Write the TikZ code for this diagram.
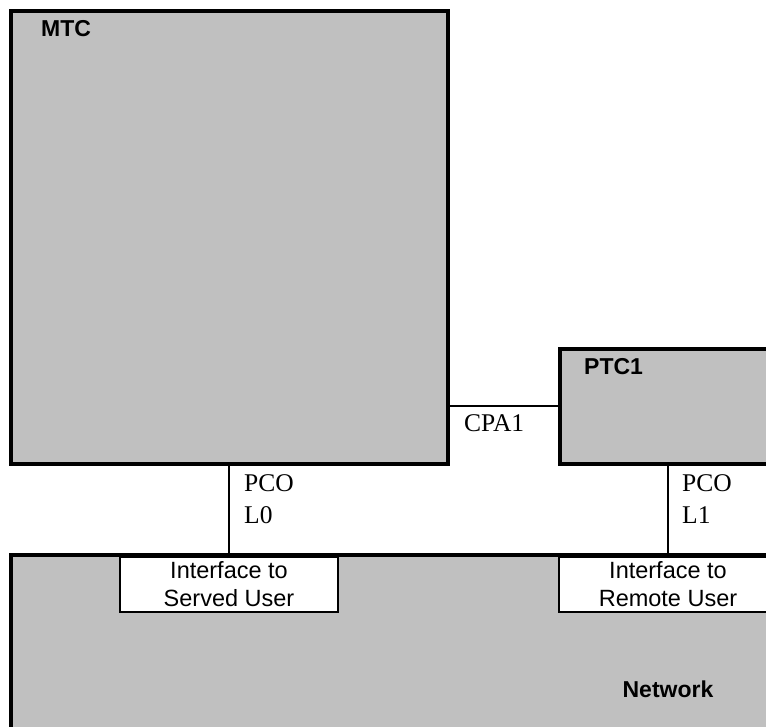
\documentclass[tikz,border=0pt]{standalone}
\usepackage{fontspec}
\setmainfont{Liberation Serif}
\setsansfont{Liberation Sans}
\definecolor{grayfill}{HTML}{C0C0C0}
\begin{document}
\begin{tikzpicture}[x=1pt,y=-1pt,
  blk/.style={draw=black,line width=4pt,fill=grayfill,inner sep=0pt,outer sep=0pt,anchor=north west,rectangle},
  ifbox/.style={draw=black,line width=2pt,fill=white,inner sep=0pt,outer sep=0pt,anchor=north west,rectangle},
  iftext/.style={font=\sffamily\fontsize{23.5}{28}\selectfont,align=center,inner sep=0pt},
  blklabel/.style={font=\sffamily\bfseries\fontsize{23}{27}\selectfont,inner sep=0pt},
  conlabel/.style={font=\rmfamily\fontsize{25.5}{32}\selectfont,inner sep=0pt,align=left},
  conn/.style={draw=black,line width=2pt}]
\useasboundingbox (0,0) rectangle (766,726);
\fill[white] (0,0) rectangle (766,726);
\begin{scope}
\clip (0,0) rectangle (766,726);
% blocks
\node[blk,minimum width=437pt,minimum height=453pt] (mtc) at (11,11) {};
\node[blk,minimum width=230pt,minimum height=115.5pt] (ptc) at (559.5,348.5) {};
\node[blk,minimum width=800pt,minimum height=200pt] (net) at (11,555) {};
% interface boxes
\node[ifbox,minimum width=218pt,minimum height=55pt] (ifs) at (120,557) {};
\node[ifbox,minimum width=218pt,minimum height=55pt] (ifr) at (559,557) {};
\node[iftext] (ifst) at (ifs.center) {Interface to\\Served User};
\node[iftext] (ifrt) at (ifr.center) {Interface to\\Remote User};
% labels
\node[blklabel,anchor=base west] (mtcl) at (41,36) {MTC};
\node[blklabel,anchor=base west] (ptcl) at (584,374) {PTC1};
\node[blklabel,anchor=base] (netl) at (668,697) {Network};
% connectors
\coordinate (cpay) at (0,406);
\draw[conn] (mtc.east |- cpay) -- (ptc.west |- cpay);
\draw[conn] (ifs.north |- mtc.south) -- (ifs.north);
\draw[conn] (ifr.north |- ptc.south) -- (ifr.north);
\node[conlabel,anchor=base west] (cpal) at (464,431) {CPA1};
\node[conlabel,anchor=base west] (pco0) at (244,523) {PCO\\L0};
\node[conlabel,anchor=base west] (pco1) at (682,523) {PCO\\L1};
\end{scope}
\end{tikzpicture}
\end{document}
